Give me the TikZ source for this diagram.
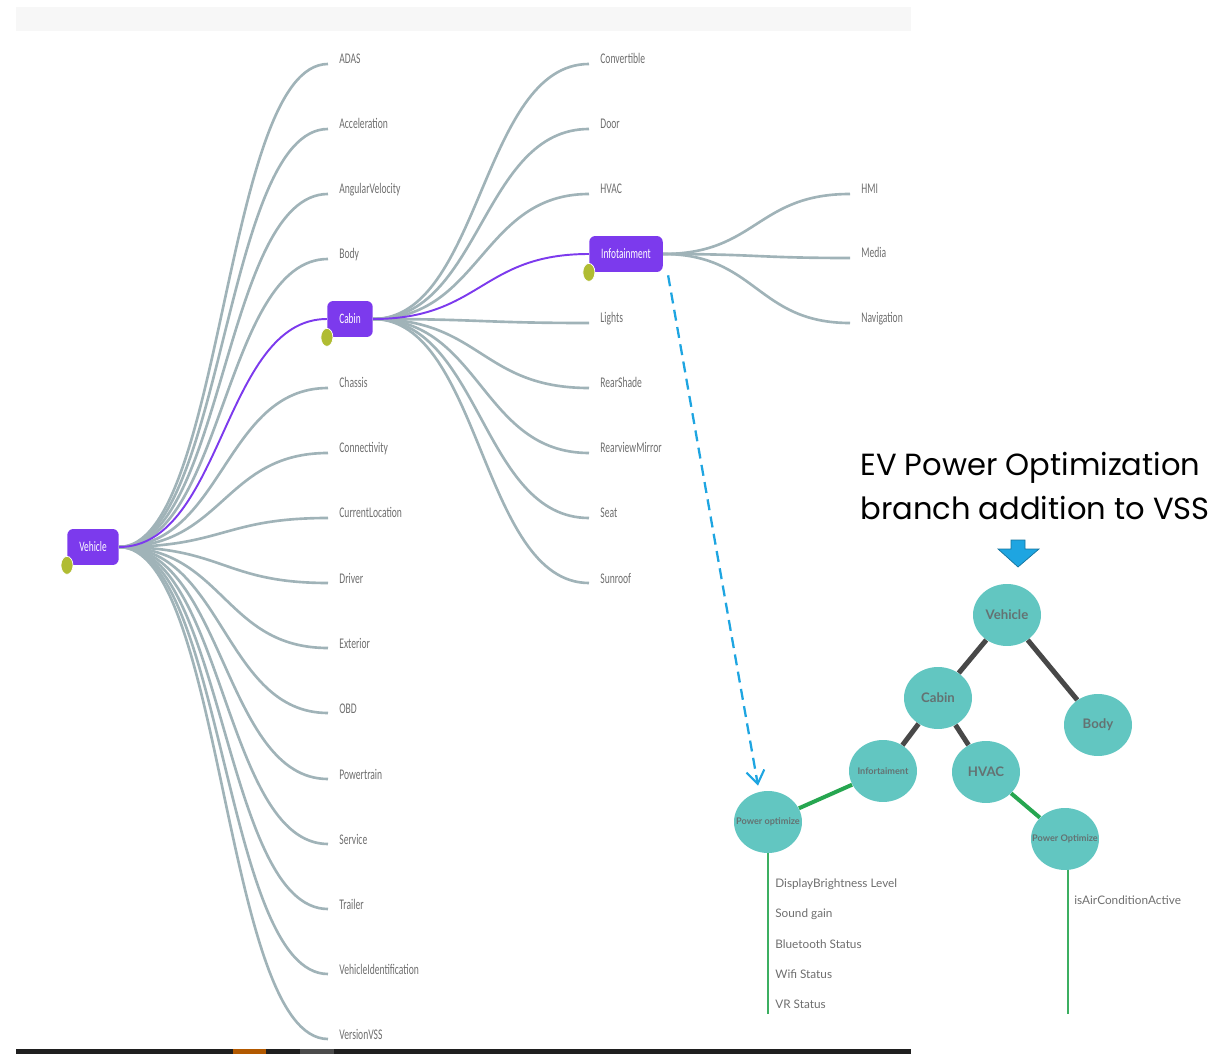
\documentclass[tikz,border=0pt]{standalone}
\usepackage{fontspec}
\setmainfont{Lato}
\newfontfamily\mapfont[FakeStretch=0.65]{Carlito}
\newfontfamily\titlefont{Poppins}
\usepackage{tikz}
\usetikzlibrary{calc,arrows.meta,shapes.geometric}

\definecolor{mapgray}{RGB}{160,179,184}
\definecolor{mappurple}{RGB}{124,58,237}
\definecolor{mapolive}{RGB}{176,188,50}
\definecolor{labgray}{RGB}{110,110,110}
\definecolor{vsscyan}{RGB}{98,198,193}
\definecolor{vsstext}{RGB}{100,114,114}
\definecolor{edgedark}{RGB}{72,72,72}
\definecolor{edgegreen}{RGB}{38,166,80}
\definecolor{dashblue}{RGB}{30,165,225}

% courbe "diagonal" du mindmap
\newcommand\maplink[3][mapgray]{\draw[maplink,#1] let \p1=(#2), \p2=(#3) in
  (\p1) .. controls ({(\x1+\x2)/2},\y1) and ({(\x1+\x2)/2},\y2) .. (\p2);}

\begin{document}
\begin{tikzpicture}[x=0.02cm,y=-0.02cm,
  mapbox/.style={fill=mappurple,text=white,rounded corners=0.12cm,inner xsep=0.24cm,
    minimum height=0.72cm,font=\mapfont\fontsize{8.2}{9}\selectfont},
  maplabel/.style={anchor=base west,inner xsep=0.22cm,inner ysep=0pt,text=labgray,
    font=\mapfont\fontsize{8.4}{9}\selectfont},
  maplink/.style={line width=1.5pt},
  mapdot/.style={ellipse,fill=mapolive,draw=white,line width=0.4pt,inner sep=0pt,
    minimum width=0.24cm,minimum height=0.36cm},
  vssnode/.style={ellipse,fill=vsscyan,inner sep=0pt,minimum width=1.36cm,
    minimum height=1.24cm,text=vsstext,font=\fontsize{7.5}{8}\selectfont\bfseries},
  smallvss/.style={font=\fontsize{5.2}{6}\selectfont\bfseries},
  treeedge/.style={edgedark,line width=0.1cm},
  greenedge/.style={edgegreen,line width=0.08cm},
  leafline/.style={edgegreen!90!white,line width=0.04cm},
  leaf/.style={anchor=west,inner sep=0pt,text=labgray,font=\fontsize{6.7}{7}\selectfont}]
\useasboundingbox (0,0) rectangle (1208,1054);

% bandes de la capture
\fill[black!3] (16,7) rectangle (911,31);
\fill[black!88] (16,1049) rectangle (911,1054);
\fill[orange!70!black] (233,1049) rectangle (266,1054);
\fill[black!70] (300,1049) rectangle (334,1054);

% mindmap
\node[mapbox] (veh) at (93,547) {Vehicle};
\node[mapbox] (cab) at (350,319) {Cabin};
\node[mapbox] (info) at (626,254) {Infotainment};

\node[maplabel] (adas) at (328,64) {ADAS};
\node[maplabel] (accel) at (328,129) {Acceleration};
\node[maplabel] (angvel) at (328,194) {AngularVelocity};
\node[maplabel] (body) at (328,259) {Body};
\node[maplabel] (chassis) at (328,388) {Chassis};
\node[maplabel] (conn) at (328,453) {Connectivity};
\node[maplabel] (curloc) at (328,518) {CurrentLocation};
\node[maplabel] (driver) at (328,583) {Driver};
\node[maplabel] (ext) at (328,648) {Exterior};
\node[maplabel] (obd) at (328,713) {OBD};
\node[maplabel] (ptrain) at (328,779) {Powertrain};
\node[maplabel] (serv) at (328,844) {Service};
\node[maplabel] (trailer) at (328,909) {Trailer};
\node[maplabel] (vehid) at (328,974) {VehicleIdentification};
\node[maplabel] (vers) at (328,1039) {VersionVSS};

\node[maplabel] (conv) at (589,64) {Convertible};
\node[maplabel] (door) at (589,129) {Door};
\node[maplabel] (hvac) at (589,194) {HVAC};
\node[maplabel] (lights) at (589,323) {Lights};
\node[maplabel] (rshade) at (589,388) {RearShade};
\node[maplabel] (rmirror) at (589,453) {RearviewMirror};
\node[maplabel] (seat) at (589,518) {Seat};
\node[maplabel] (sunroof) at (589,583) {Sunroof};

\node[maplabel] (hmi) at (850,194) {HMI};
\node[maplabel] (media) at (850,258) {Media};
\node[maplabel] (navi) at (850,323) {Navigation};

\maplink{veh.east}{adas.base west}
\maplink{veh.east}{accel.base west}
\maplink{veh.east}{angvel.base west}
\maplink{veh.east}{body.base west}
\maplink{veh.east}{chassis.base west}
\maplink{veh.east}{conn.base west}
\maplink{veh.east}{curloc.base west}
\maplink{veh.east}{driver.base west}
\maplink{veh.east}{ext.base west}
\maplink{veh.east}{obd.base west}
\maplink{veh.east}{ptrain.base west}
\maplink{veh.east}{serv.base west}
\maplink{veh.east}{trailer.base west}
\maplink{veh.east}{vehid.base west}
\maplink{veh.east}{vers.base west}
\maplink{cab.east}{conv.base west}
\maplink{cab.east}{door.base west}
\maplink{cab.east}{hvac.base west}
\maplink{cab.east}{lights.base west}
\maplink{cab.east}{rshade.base west}
\maplink{cab.east}{rmirror.base west}
\maplink{cab.east}{seat.base west}
\maplink{cab.east}{sunroof.base west}
\maplink{info.east}{hmi.base west}
\maplink{info.east}{media.base west}
\maplink{info.east}{navi.base west}
% chemin actif
\maplink[mappurple,line width=1.1pt]{veh.east}{cab.west}
\maplink[mappurple,line width=1.1pt]{cab.east}{info.west}

\node[mapdot] (dveh) at (veh.south west) {};
\node[mapdot] (dcab) at (cab.south west) {};
\node[mapdot] (dinfo) at (info.south west) {};

% branche VSS
\node[anchor=west,inner sep=0pt,align=left,font=\titlefont\fontsize{17.4}{25.5}\selectfont]
  (title) at (860,486) {EV Power Optimization\\branch addition to VSS};
\draw[fill=dashblue,draw=dashblue!70!black,line width=0.4pt]
  (1011,540) -- (1025,540) -- (1025,549) -- (1039,549) -- (1018,567) -- (998,549) -- (1011,549) -- cycle;

\node[vssnode] (tveh) at (1007,615) {\makebox[0pt]{Vehicle}};
\node[vssnode] (tcab) at (938,698) {\makebox[0pt]{Cabin}};
\node[vssnode] (tbody) at (1098,725) {\makebox[0pt]{Body}};
\node[vssnode,smallvss] (tinfo) at (883,771) {\makebox[0pt]{Infortaiment}};
\node[vssnode] (thvac) at (986,772) {\makebox[0pt]{HVAC}};
\node[vssnode,smallvss] (po1) at (768,822) {\makebox[0pt]{Power optimize}};
\node[vssnode,smallvss] (po2) at (1065,839) {\makebox[0pt]{Power Optimize}};

\draw[treeedge] (tveh) -- (tcab);
\draw[treeedge] (tveh) -- (tbody);
\draw[treeedge] (tcab) -- (tinfo);
\draw[treeedge] (tcab) -- (thvac);
\draw[greenedge] (tinfo) -- (po1);
\draw[greenedge] (thvac) -- (po2);

\coordinate (po1end) at (766,1014);
\coordinate (po2end) at (1068,1014);
\draw[leafline] (po1.south) -- (po1.south |- po1end);
\draw[leafline] (po2end |- po2.south) -- (po2end);

\node[leaf] (dbl) at (775,884) {DisplayBrightness Level};
\node[leaf] (sgain) at (775,914) {Sound gain};
\node[leaf] (btst) at (775,944) {Bluetooth Status};
\node[leaf] (wifist) at (775,974) {Wifi Status};
\node[leaf] (vrst) at (775,1004) {VR Status};
\node[leaf] (airc) at (1074,900) {isAirConditionActive};

\draw[dashblue,line width=1.3pt,dash pattern=on 0.22cm off 0.13cm,
  -{Straight Barb[length=0.26cm,width=0.36cm,line width=1.2pt]}]
  ([shift={(5,3)}]info.south east) -- ([shift={(-10,-5)}]po1.north);
\end{tikzpicture}
\end{document}
